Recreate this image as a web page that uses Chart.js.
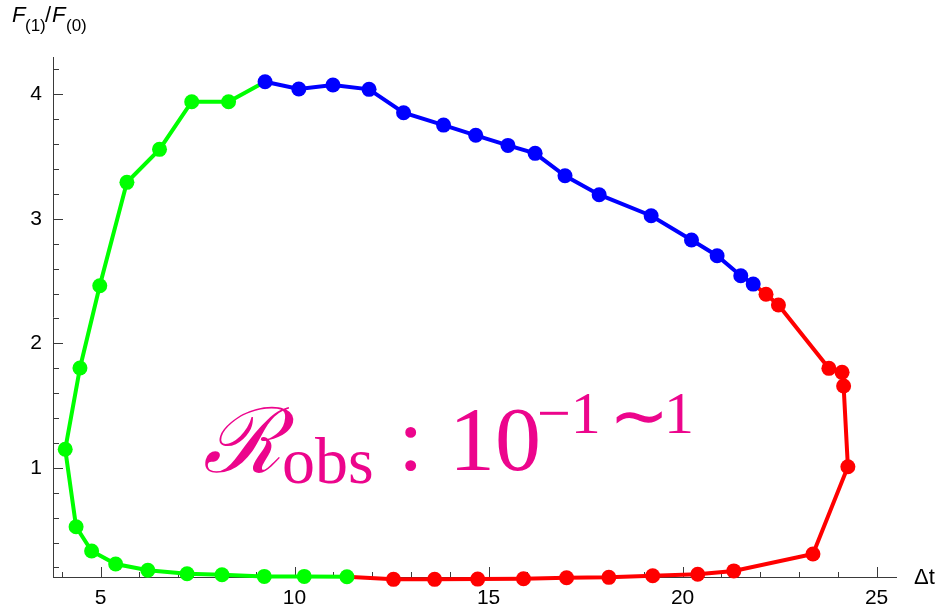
<!DOCTYPE html>
<html>
<head>
<meta charset="utf-8">
<script src="https://cdn.jsdelivr.net/npm/chart.js@4.4.1/dist/chart.umd.min.js"></script>
<style>
  html, body { margin: 0; padding: 0; background: #fff; }
</style>
</head>
<body>
<canvas id="myChart" width="939" height="609"></canvas>
<script>
// green branch: bottom (small y) round the left side up to the top
const greenX = [11.35, 10.25, 9.22, 8.13, 7.23, 6.22, 5.39, 4.77, 4.37, 4.09, 4.47, 4.98, 5.68, 6.52, 7.35, 8.30];
const greenY = [0.125, 0.128, 0.128, 0.141, 0.149, 0.177, 0.227, 0.332, 0.527, 1.149, 1.802, 2.463, 3.293, 3.558, 3.941, 3.941];

// blue branch: the top, left to right
const blueX = [9.24, 10.11, 10.99, 11.92, 12.81, 13.84, 14.67, 15.50, 16.20, 16.97, 17.85, 19.19, 20.23, 20.89, 21.50, 21.82];
const blueY = [4.101, 4.043, 4.075, 4.040, 3.852, 3.753, 3.671, 3.590, 3.526, 3.346, 3.194, 3.025, 2.830, 2.704, 2.543, 2.476];

// red branch: bottom left to right, then up the right side
const redX = [12.55, 13.61, 14.72, 15.90, 17.01, 18.10, 19.23, 20.39, 21.32, 23.36, 24.26, 24.15, 24.11, 23.77, 22.47, 22.15];
const redY = [0.104, 0.104, 0.106, 0.109, 0.117, 0.120, 0.133, 0.145, 0.172, 0.308, 1.009, 1.657, 1.767, 1.799, 2.308, 2.394];

const xTicks = [5, 10, 15, 20, 25];
const yTicks = [1, 2, 3, 4];

const toPoints = (xs, ys) => xs.map((x, i) => ({ x, y: ys[i] }));

const greenPts = toPoints(greenX, greenY);
const bluePts = toPoints(blueX, blueY);
const redPts = toPoints(redX, redY);

// each branch joins onto the next one
const greenData = [...greenPts, bluePts[0]];
const redData = [greenPts[0], ...redPts, bluePts[bluePts.length - 1]];

const axisColor = '#3a3a3a';
const pink = '#ec058c';

const axisTicks = {
    id: 'axisTicks',
    beforeDatasetsDraw(chart) {
        const { ctx, chartArea, scales: { x, y } } = chart;
        ctx.save();
        ctx.strokeStyle = axisColor;
        ctx.lineWidth = 1;
        ctx.beginPath();
        for (let v = 4; v <= 25; v++) {
            const px = Math.round(x.getPixelForValue(v)) + 0.5;
            const len = v % 5 === 0 ? 10 : 5;
            ctx.moveTo(px, chartArea.bottom);
            ctx.lineTo(px, chartArea.bottom - len);
        }
        for (let i = 1; i <= 21; i++) {
            const py = Math.round(y.getPixelForValue(i / 5)) + 0.5;
            const len = i % 5 === 0 ? 10 : 6;
            ctx.moveTo(chartArea.left, py);
            ctx.lineTo(chartArea.left + len, py);
        }
        ctx.stroke();
        ctx.restore();
    }
};

const labels = {
    id: 'labels',
    afterDraw(chart) {
        const { ctx } = chart;
        ctx.save();
        ctx.fillStyle = '#000';
        ctx.textBaseline = 'alphabetic';

        // axis names
        ctx.font = 'italic 22px "Liberation Sans", Arial, sans-serif';
        ctx.fillText('F', 12, 22);
        ctx.fillText('F', 52, 22);
        ctx.font = '17px "Liberation Sans", Arial, sans-serif';
        ctx.fillText('(1)', 25, 31);
        ctx.fillText('(0)', 66, 31);
        ctx.font = '22px "Liberation Sans", Arial, sans-serif';
        ctx.fillText('/', 45, 22);
        ctx.fillText('\u0394t', 914, 584);

        // annotation
        ctx.fillStyle = pink;
        ctx.font = 'italic 90px "DejaVu Serif", "Liberation Serif", serif';
        ctx.fillText('\u211B', 203, 472);
        ctx.font = '66px "Liberation Serif", serif';
        ctx.fillText('obs', 282, 483);
        ctx.font = '92px "Liberation Serif", serif';
        ctx.fillText(':', 398, 470);
        ctx.fillText('10', 449, 470);
        ctx.font = '60px "Liberation Serif", serif';
        ctx.fillText('\u22121', 537, 433);
        ctx.fillText('1', 664, 433);
        ctx.font = '72px "Liberation Serif", serif';
        ctx.fillText('\u223C', 609, 440);
        ctx.restore();
    }
};

const series = (data, color, order) => ({
    data,
    borderColor: color,
    backgroundColor: color,
    borderWidth: 4,
    pointRadius: ctx => (ctx.dataIndex === 0 && data === redData) || (ctx.dataIndex === data.length - 1 && data !== bluePts) ? 0 : 7.5,
    pointBorderWidth: 0,
    pointHoverRadius: 0,
    tension: 0,
    clip: false,
    order,
});

new Chart(document.getElementById('myChart').getContext('2d'), {
    type: 'line',
    data: {
        datasets: [
            series(bluePts, '#0000ff', 0),
            series(greenData, '#00ff00', 1),
            series(redData, '#ff0000', 2),
        ],
    },
    options: {
        responsive: false,
        animation: false,
        events: [],
        layout: { padding: { top: 57, right: 43, left: 0, bottom: 0 } },
        plugins: { legend: { display: false }, tooltip: { enabled: false } },
        scales: {
            x: {
                type: 'linear',
                min: 3.775,
                max: 25.5,
                afterFit: s => { s.height = 32; },
                afterBuildTicks: s => { s.ticks = xTicks.map(v => ({ value: v })); },
                grid: { display: false, drawTicks: false },
                border: { display: true, color: axisColor, width: 1 },
                ticks: { color: '#000', padding: 9, maxRotation: 0, autoSkip: false,
                    font: { family: '"Liberation Sans", Arial, sans-serif', size: 21 } },
            },
            y: {
                type: 'linear',
                min: 0.123,
                max: 4.3,
                afterFit: s => { s.width = 53; },
                afterBuildTicks: s => { s.ticks = yTicks.map(v => ({ value: v })); },
                grid: { display: false, drawTicks: false },
                border: { display: true, color: axisColor, width: 1 },
                ticks: { color: '#000', padding: 11,
                    font: { family: '"Liberation Sans", Arial, sans-serif', size: 21 } },
            },
        },
    },
    plugins: [axisTicks, labels],
});
</script>
</body>
</html>
